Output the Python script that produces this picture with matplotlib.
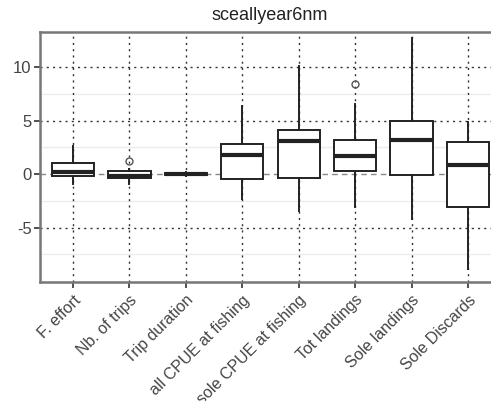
import matplotlib
matplotlib.use("Agg")
import matplotlib.pyplot as plt

categories = ["F. effort", "Nb. of trips", "Trip duration", "all CPUE at fishing",
              "sole CPUE at fishing", "Tot landings", "Sole landings", "Sole Discards"]
whislo = [-0.93, -0.93, -0.15, -2.33, -3.48, -3.07, -4.16, -8.85]
q1 = [-0.22, -0.37, -0.10, -0.47, -0.37, 0.28, -0.12, -3.10]
med = [0.22, -0.15, 0.00, 1.77, 3.10, 1.68, 3.23, 0.81]
q3 = [1.02, 0.25, 0.10, 2.83, 4.16, 3.23, 4.94, 2.98]
whishi = [2.67, 0.50, 0.15, 6.37, 10.12, 6.55, 12.73, 4.90]
fliers = [[], [1.24], [], [], [], [8.42], [], []]
yticks = [-5, 0, 5, 10]
title = "sceallyear6nm"

plt.rcParams['font.family'] = ['Liberation Sans', 'DejaVu Sans']

fig = plt.figure(figsize=(4.91, 4.01), dpi=100)
ax = fig.add_axes([40/491, 119/401, 461/491, 250/401])

stats = []
for i in range(len(categories)):
    stats.append(dict(med=med[i], q1=q1[i], q3=q3[i], whislo=whislo[i],
                      whishi=whishi[i], fliers=fliers[i], label=categories[i]))

pos = list(range(1, len(categories) + 1))
ax.bxp(stats, positions=pos, widths=0.75, showcaps=False, patch_artist=True,
       boxprops=dict(facecolor='white', edgecolor='#222222', linewidth=1.4),
       whiskerprops=dict(color='#222222', linewidth=1.4),
       medianprops=dict(color='#222222', linewidth=3),
       flierprops=dict(marker='o', markersize=5, markerfacecolor='none',
                       markeredgecolor='#555555', markeredgewidth=1.0),
       zorder=3)

ax.set_xlim(0.414, 8.586)
ax.set_ylim(-10.1, 13.3)

# minor faint grid
for y in [-7.5, -2.5, 2.5, 7.5]:
    ax.axhline(y, color='#ececec', linewidth=1.0, zorder=0)
for y in [-5, 5, 10]:
    ax.axhline(y, color='#333333', linewidth=1.0, linestyle=(0, (1.5, 3)), zorder=1)
ax.axhline(0, color='#888888', linewidth=1.0, linestyle=(0, (4, 3)), zorder=1)
for x in pos:
    ax.axvline(x, color='#333333', linewidth=1.0, linestyle=(0, (1.5, 3)), zorder=1)

ax.set_yticks(yticks)
ax.set_yticklabels([str(v) for v in yticks], color='#444444', fontsize=12)
ax.set_xticks(pos)
ax.set_xticklabels(categories, rotation=45, ha='right', rotation_mode='anchor',
                   color='#444444', fontsize=11.5)
ax.tick_params(axis='both', direction='out', length=4, width=1.2, color='#333333')
ax.tick_params(axis='y', pad=2)
for s in ax.spines.values():
    s.set_color('#777777')
    s.set_linewidth(1.8)

fig.text(270/491, 1 - 15/401, title, ha='center', va='center', fontsize=13, color='#222222')

fig.savefig("out.png", dpi=100)
